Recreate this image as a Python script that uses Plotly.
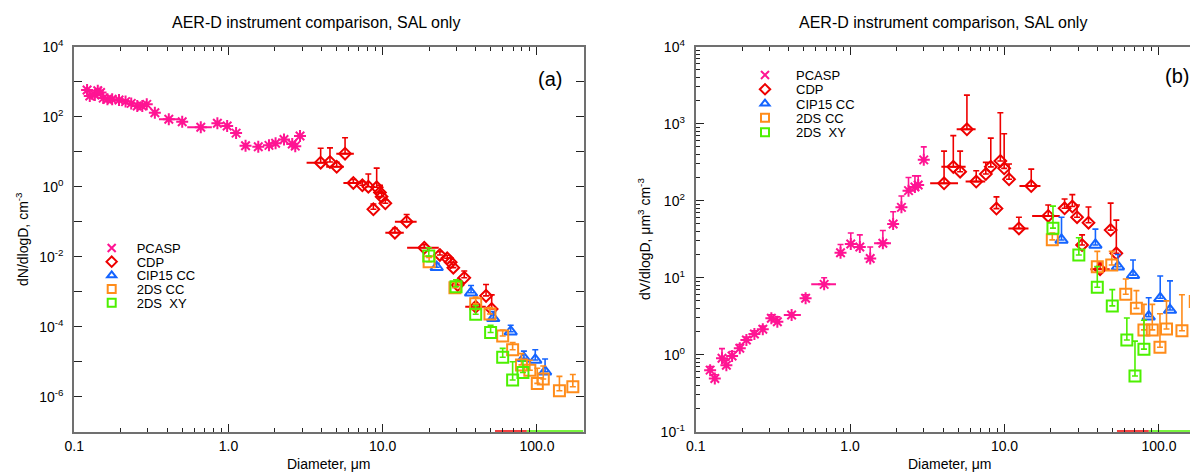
import plotly.graph_objects as go

# page is rendered with the browser's default 8px body margin
OFF = 8
W_PAGE, H_PAGE = 1198, 473
W, H = W_PAGE - OFF, H_PAGE - OFF

# ---------------- panel (a): dN/dlogD ----------------
pcasp_d_a = [0.121, 0.126, 0.136, 0.142, 0.148, 0.154, 0.164, 0.176, 0.195, 0.215,
             0.234, 0.256, 0.276, 0.295, 0.333, 0.410, 0.501, 0.661, 0.847, 0.98,
             1.12, 1.29, 1.56, 1.83, 2.02, 2.29, 2.59, 2.71, 2.91]
pcasp_n = [580, 390, 415, 550, 490, 340, 315, 315, 300, 270,
           240, 203, 203, 225, 130, 85, 72, 50, 65, 54,
           34, 14.8, 13.8, 15.2, 17.4, 22.4, 16.6, 14.4, 28]
pcasp_xlo_a = [None]*15 + [0.354, None, 0.54] + [None]*11
pcasp_xhi_a = [None]*15 + [0.477, None, 0.78] + [None]*11

cdp_d_a = [3.96, 4.55, 5.03, 5.7, 6.45, 7.38, 8.07, 8.7, 9.14, 9.6, 9.84, 10.4,
           12.0, 14.3, 18.6, 23.5, 26.2, 27.6, 28.7, 30.6, 33.8, 40.1, 46.8, 50.9]
cdp_n = [4.85, 5.1, 3.7, 8.8, 1.28, 1.10, 1.0, 0.226, 0.96, 0.68, 0.52, 0.336,
         0.0486, 0.1, 0.018, 0.0112, 0.009, 0.0069, 0.00486, 0.00155, 0.0025,
         0.00037, 0.00076, 0.00032]
cdp_top_a = [12.6, 12.9, 5.0, 25, 1.6, 1.4, 2.3, 0.32, 3.4, 1.1, 0.65, 0.42,
             0.065, 0.16, 0.022, 0.014, 0.011, 0.009, 0.006, 0.0021, 0.0039,
             0.00045, 0.0016, 0.00081]
cdp_xlo_a = [3.21, None, 4.3, 5.0, 5.56, None, None, None, None, None, None, None,
             10.4, 12.0, 14.4, None, None, None, None, None, None, 34.3, None, None]
cdp_xhi_a = [4.38, None, 5.6, 6.5, 7.3, None, None, None, None, None, None, None,
             13.7, 16.6, 23.1, None, None, None, None, None, None, 46.6, None, None]

cip_d_a = [22.4, 37.4, 52.1, 67.6, 82.4, 97.6, 113]
cip_n = [0.005, 0.00093, 0.000174, 7.2e-5, 1.26e-5, 1.12e-5, 5.2e-6]
cip_top_a = [0.0065, 0.0015, 0.00027, 0.00011, 2.0e-5, 2.2e-5, 1.2e-5]

cc_d_a = [20.0, 29.4, 40.1, 49.6, 60, 69.6, 79.4, 90, 100.6, 110, 140, 171]
cc_n = [0.0072, 0.0013, 0.00045, 0.00023, 5.4e-5, 2.2e-5, 8.1e-6, 5.7e-6,
        2.4e-6, 3.2e-6, 1.48e-6, 1.93e-6]
cc_top_a = [0.0095, 0.0019, 0.0007, 0.00035, 8e-5, 3.5e-5, 1.7e-5, 1.1e-5,
            6.5e-6, 7.5e-6, 3.8e-6, 4.3e-6]

xy_d_a = [19.9, 29.9, 40.1, 50.1, 60, 69.6, 81.2]
xy_n = [0.0104, 0.00139, 0.000226, 6.8e-5, 1.34e-5, 3.0e-6, 4.9e-6]
xy_top_a = [0.018, 0.0022, 0.0004, 0.00011, 2.4e-5, 1.0e-5, 1.05e-5]

# ---------------- panel (b): dV/dlogD ----------------
pcasp_d_b = [0.124, 0.133, 0.148, 0.158, 0.172, 0.193, 0.213, 0.240, 0.272, 0.309,
             0.338, 0.418, 0.515, 0.679, 0.867, 1.01, 1.156, 1.35, 1.63, 1.90,
             2.15, 2.39, 2.63, 2.76, 3.0]
pcasp_v = [0.63, 0.49, 0.90, 0.73, 0.96, 1.21, 1.55, 1.86, 2.14, 2.97,
           2.68, 3.28, 5.4, 8.2, 21.1, 27.4, 25.1, 17.8, 28, 49.8,
           82, 135, 151, 160, 339]
pcasp_top_b = [0.7, 0.55, 1.2, 0.85, 1.1, 1.35, 1.7, 2.05, 2.35, 3.3,
               3.1, 3.5, 6.0, 10, 27, 38, 36, 25, 41, 72,
               115, 200, 210, 210, 500]
pcasp_xlo_b = [None]*11 + [0.372, None, 0.56] + [None]*4 + [1.43] + [None]*6
pcasp_xhi_b = [None]*11 + [0.48, None, 0.81] + [None]*4 + [1.84] + [None]*6

cdp_d_b = [4.06, 4.66, 5.16, 5.71, 6.56, 7.57, 8.15, 8.87, 9.4, 9.95, 10.7,
           12.4, 14.9, 19.2, 24.5, 27.5, 29.5, 31.8, 35, 41.6, 48.7, 53]
cdp_v = [168, 275, 238, 845, 177, 222, 275, 79, 328, 263, 190,
         43.6, 155, 63.5, 79.7, 84, 61, 26.6, 51.8, 12.9, 41.5, 20.7]
cdp_top_b = [441, 700, 441, 2350, 245, 315, 650, 112, 1390, 740, 300,
             61, 257, 88, 105, 120, 88, 36, 83, 15.5, 93, 56]
cdp_xlo_b = [3.3, 3.9, None, 4.9, 5.6, None, None, None, None, None, None,
             10.6, 12.5, 15.1, None, None, None, None, None, 36, None, None]
cdp_xhi_b = [5.0, 5.6, None, 6.5, 7.5, None, None, None, None, None, None,
             14.3, 17.1, 22.8, None, None, None, None, None, 48, None, None]

cip_d_b = [23.4, 38.8, 54.3, 68, 85.9, 102, 118]
cip_v = [30.9, 26.6, 13.9, 10.8, 3.12, 5.4, 3.8]
cip_top_b = [61, 42.7, 20, 17, 5.5, 10.5, 9.1]

cc_d_b = [20.4, 39.9, 49.5, 61, 71.5, 80, 90.6, 101.6, 112, 141, 172]
cc_v = [31, 13.9, 14.6, 6.1, 4.0, 2.1, 2.1, 1.25, 2.16, 2.05, 4.9]
cc_top_b = [38, 22, 22, 9.6, 6.8, 4.5, 4.5, 3.4, 5.0, 6.0, 12.5]

xy_d_b = [20.6, 30.3, 39.9, 49.9, 62, 70, 80]
xy_v = [44, 19.7, 7.5, 4.3, 1.55, 0.53, 1.18]
xy_top_b = [85, 33, 14, 7.0, 3.0, 1.5, 2.8]

# zero-concentration bins drawn along the lower axis
cdp_zero_d = [53.5, 86]
xy_zero_d = [86, 200]

x_major = [0.1, 1, 10, 100]
x_major_text = ["0.1", "1.0", "10.0", "100.0"]
x_minor = [m * 10.0**e for e in (-1, 0, 1) for m in range(2, 10)]

ya_vals = [10.0**e for e in range(-6, 5, 2)]
ya_text = ["10<sup>%d</sup>" % e for e in range(-6, 5, 2)]
ya_unlabelled = [10.0**e for e in range(-7, 4, 2)]
yb_vals = [10.0**e for e in range(-1, 5)]
yb_text = ["10<sup>%d</sup>" % e for e in range(-1, 5)]
yb_minor = [m * 10.0**e for e in range(-1, 4) for m in range(2, 10)]

names = ["PCASP", "CDP", "CIP15 CC", "2DS CC", "2DS\u00a0 XY"]
name_sizes = [13, 13, 13, 13, 13]
colors = ["#ff1493", "#ee0000", "#1464ff", "#ff8c1a", "#4cf000"]
symbols = ["asterisk-open", "diamond-open", "triangle-up-open", "square-open", "square-open"]
leg_symbols = ["x-thin-open", "diamond-open", "triangle-up-open", "square-open", "square-open"]
sizes = [10, 9, 11, 11, 11]

FONT = "Liberation Sans, Arial, sans-serif"

# layout geometry (page pixels)
TOP, BOT = 46.7, 431.7
AX0, AX1 = 74.3, 583.7
BX0 = 695.7
DEC_B = 154.4
B_RIGHT = -1 + (W_PAGE - BX0) / DEC_B

# legend rows (page pixels): symbol centre x, text start x, row centres y
LEG_A_X, LEG_A_TEXT = 111.7, 136.7
LEG_A_ROWS = [248, 261.7, 275.4, 289.1, 302.8]
LEG_B_X, LEG_B_TEXT = 765, 796
LEG_B_ROWS = [75, 89.3, 103.6, 117.9, 132.2]


def px_x(p):
    return (p - OFF) / W


def px_y(p):
    return 1 - (p - OFF) / H


fig = go.Figure()


def add_series(d, v, top, xlo, xhi, k, xa, ya):
    ex = None
    if xlo is not None:
        ex = dict(type="data", symmetric=False,
                  array=[(h - x) if h is not None else 0 for h, x in zip(xhi, d)],
                  arrayminus=[(x - l) if l is not None else 0 for l, x in zip(xlo, d)],
                  color=colors[k], thickness=2, width=0)
    ey = None
    if top is not None:
        ey = dict(type="data", symmetric=False, array=[t - y for t, y in zip(top, v)],
                  arrayminus=[0] * len(v), color=colors[k], thickness=1.6, width=3)
    fig.add_trace(go.Scatter(
        x=d, y=v, mode="markers", name=names[k], xaxis=xa, yaxis=ya, showlegend=False,
        marker=dict(symbol=symbols[k], size=sizes[k], color=colors[k],
                    line=dict(width=2, color=colors[k])),
        error_x=ex, error_y=ey))


# panel a
add_series(pcasp_d_a, pcasp_n, None, pcasp_xlo_a, pcasp_xhi_a, 0, "x", "y")
add_series(cdp_d_a, cdp_n, cdp_top_a, cdp_xlo_a, cdp_xhi_a, 1, "x", "y")
add_series(cip_d_a, cip_n, cip_top_a, None, None, 2, "x", "y")
add_series(cc_d_a, cc_n, cc_top_a, None, None, 3, "x", "y")
add_series(xy_d_a, xy_n, xy_top_a, None, None, 4, "x", "y")
# panel b
add_series(pcasp_d_b, pcasp_v, pcasp_top_b, pcasp_xlo_b, pcasp_xhi_b, 0, "x2", "y2")
add_series(cdp_d_b, cdp_v, cdp_top_b, cdp_xlo_b, cdp_xhi_b, 1, "x2", "y2")
add_series(cip_d_b, cip_v, cip_top_b, None, None, 2, "x2", "y2")
add_series(cc_d_b, cc_v, cc_top_b, None, None, 3, "x2", "y2")
add_series(xy_d_b, xy_v, xy_top_b, None, None, 4, "x2", "y2")

# zero lines on lower axis
for xa, ya, floor in (("x", "y", 1e-7), ("x2", "y2", 0.1)):
    fig.add_trace(go.Scatter(x=cdp_zero_d, y=[floor] * 2, mode="lines", xaxis=xa, yaxis=ya,
                             line=dict(color=colors[1], width=3), showlegend=False,
                             cliponaxis=False))
    fig.add_trace(go.Scatter(x=xy_zero_d, y=[floor] * 2, mode="lines", xaxis=xa, yaxis=ya,
                             line=dict(color=colors[4], width=3), showlegend=False,
                             cliponaxis=False))

# legend entries: one legend per row so rows can sit as tightly as in the original
legends = {}
for panel, (xa, ya, sx, tx, rows) in enumerate((
        ("x", "y", LEG_A_X, LEG_A_TEXT, LEG_A_ROWS),
        ("x2", "y2", LEG_B_X, LEG_B_TEXT, LEG_B_ROWS))):
    for k in range(5):
        idx = panel * 5 + k + 1
        lname = "legend" if idx == 1 else "legend%d" % idx
        gap = tx - sx
        iw = max(30, 2 * gap - 10)
        fig.add_trace(go.Scatter(
            x=[None], y=[None], mode="markers", name=names[k], xaxis=xa, yaxis=ya,
            legend=lname, showlegend=True,
            marker=dict(symbol=leg_symbols[k], size=8, color=colors[k],
                        line=dict(width=2, color=colors[k]))))
        legends[lname] = dict(
            x=px_x(sx - (iw + 10) / 2), y=px_y(rows[k]), xanchor="left", yanchor="middle",
            bgcolor="rgba(0,0,0,0)", borderwidth=0, itemwidth=iw,
            font=dict(family=FONT, size=name_sizes[k], color="#000"))

axis_common = dict(type="log", showgrid=False, zeroline=False, showline=True,
                   automargin=False,
                   linecolor="#707070", linewidth=2, ticks="inside", tickcolor="#222",
                   tickwidth=1, ticklen=8, tickfont=dict(family=FONT, size=14, color="#000"))

fig.update_layout(
    width=W, height=H, autosize=False,
    margin=dict(l=0, r=0, t=0, b=0, pad=0, autoexpand=False),
    paper_bgcolor="white", plot_bgcolor="white",
    font=dict(family=FONT, color="#000"),
    xaxis=dict(**axis_common, domain=[px_x(AX0), px_x(AX1)], anchor="y",
               range=[-1, -1 + (AX1 - AX0) / 154.2], mirror="ticks",
               tickmode="array", tickvals=x_major, ticktext=x_major_text,
               minor=dict(tickmode="array", tickvals=x_minor, ticks="inside",
                          ticklen=4, tickcolor="#222", showgrid=False)),
    yaxis=dict(**axis_common, domain=[px_y(BOT), px_y(TOP)], anchor="x",
               range=[-7, 4], mirror="ticks", tickmode="array",
               tickvals=ya_vals, ticktext=ya_text, ticklabelstandoff=6,
               minor=dict(tickmode="array", tickvals=ya_unlabelled, ticks="inside",
                          ticklen=8, tickcolor="#222", showgrid=False)),
    xaxis2=dict(**axis_common, domain=[px_x(BX0), 1.0], anchor="y2",
                range=[-1, B_RIGHT], mirror="ticks",
                tickmode="array", tickvals=x_major, ticktext=x_major_text,
                minor=dict(tickmode="array", tickvals=x_minor, ticks="inside",
                           ticklen=4, tickcolor="#222", showgrid=False)),
    yaxis2=dict(**axis_common, domain=[px_y(BOT), px_y(TOP)], anchor="x2",
                range=[-1, 4], mirror=False, tickmode="array",
                tickvals=yb_vals, ticktext=yb_text, ticklabelstandoff=6,
                minor=dict(tickmode="array", tickvals=yb_minor, ticks="inside",
                           ticklen=4, tickcolor="#222", showgrid=False)),
    **legends,
)

ann = [
    dict(text="AER-D instrument comparison, SAL only", x=px_x(316), y=px_y(22), size=16),
    dict(text="AER-D instrument comparison, SAL only", x=px_x(943), y=px_y(22), size=16),
    dict(text="(a)", x=px_x(550), y=px_y(79), size=20),
    dict(text="(b)", x=px_x(1177), y=px_y(76), size=20),
    dict(text="Diameter, \u03bcm", x=px_x(329), y=px_y(464), size=14),
    dict(text="Diameter, \u03bcm", x=px_x(950), y=px_y(464), size=14),
]
for a in ann:
    fig.add_annotation(text=a["text"], x=a["x"], y=a["y"], xref="paper", yref="paper",
                       xanchor="center", yanchor="middle", showarrow=False,
                       font=dict(family=FONT, size=a["size"], color="#000"))

fig.add_annotation(text="dN/dlogD, cm<sup>-3</sup>", x=px_x(22), y=px_y(239),
                   xref="paper", yref="paper", textangle=-90, showarrow=False,
                   xanchor="center", yanchor="middle",
                   font=dict(family=FONT, size=14, color="#000"))
fig.add_annotation(text="dV/dlogD, \u03bcm<sup>3</sup> cm<sup>-3</sup>", x=px_x(644), y=px_y(239),
                   xref="paper", yref="paper", textangle=-90, showarrow=False,
                   xanchor="center", yanchor="middle",
                   font=dict(family=FONT, size=14, color="#000"))

fig.write_html("out.html")
